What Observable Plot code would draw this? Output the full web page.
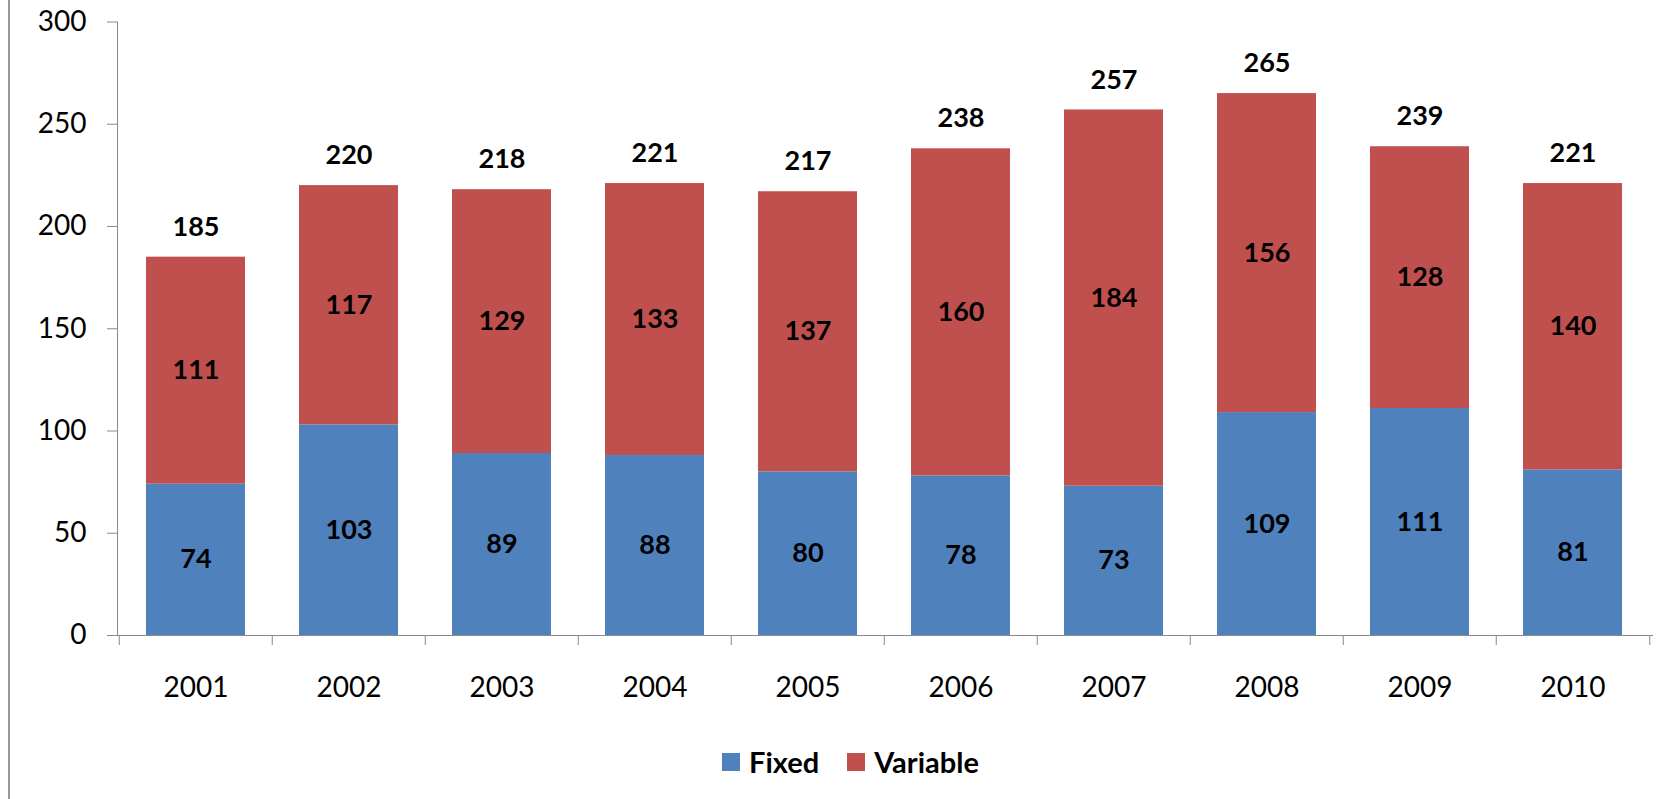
<!DOCTYPE html>
<html>
<head>
<meta charset="utf-8">
<script src="https://cdn.jsdelivr.net/npm/d3@7"></script>
<script src="https://cdn.jsdelivr.net/npm/@observablehq/plot@0.6"></script>
<style>
  html, body { margin: 0; padding: 0; background: #fff; }
  body { width: 1671px; height: 799px; position: relative; overflow: hidden; font-family: Lato, "Open Sans", sans-serif; }
  #border { position: absolute; left: 8px; top: 0; width: 2px; height: 799px; background: #9a9a9a; z-index: 5; }
  #chart { position: absolute; left: 0; top: 0; }
  #legend { position: absolute; left: 722px; top: 744px; display: flex; align-items: center; font-size: 29px; font-weight: bold; color: #000; }
  .sw { width: 18px; height: 18px; display: inline-block; margin-right: 9px; }
  .item { display: flex; align-items: center; margin-right: 28px; }
</style>
</head>
<body>
<div id="chart"></div>
<div id="border"></div>
<div id="legend"></div>
<script>
const years = ["2001","2002","2003","2004","2005","2006","2007","2008","2009","2010"];
const fixed = [74,103,89,88,80,78,73,109,111,81];
const variable = [111,117,129,133,137,160,184,156,128,140];
const totals = [185,220,218,221,217,238,257,265,239,221];
const seriesNames = ["Fixed","Variable"];
const seriesColors = ["#4F81BD","#C0504D"];
const yTicks = [0,50,100,150,200,250,300];

const data = [];
years.forEach((y, i) => {
  data.push({year: y, series: "Fixed", value: fixed[i]});
  data.push({year: y, series: "Variable", value: variable[i]});
});
const totalData = years.map((y, i) => ({year: y, total: totals[i]}));

const W = 1671, mL = 117, mR = 19;
const half = (W - mL - mR) / years.length / 2;

const plot = Plot.plot({
  width: W,
  height: 712,
  marginLeft: mL,
  marginRight: mR,
  marginTop: 21.5,
  marginBottom: 77,
  style: {fontFamily: "Lato, 'Open Sans', sans-serif", fontSize: "28px", color: "#000", background: "#fff"},
  x: {domain: years, paddingInner: 0.35, paddingOuter: 0.175, label: null},
  y: {domain: [0, 300], label: null},
  color: {domain: seriesNames, range: seriesColors},
  marks: [
    Plot.barY(data, Plot.stackY({x: "year", y: "value", fill: "series", order: seriesNames})),
    Plot.text(data, Plot.stackY({x: "year", y: "value", z: "series", order: seriesNames, text: d => String(d.value), fontSize: 27, fontWeight: "bold", fill: "#000"})),
    Plot.text(totalData, {x: "year", y: "total", text: d => String(d.total), dy: -30, fontSize: 27, fontWeight: "bold", fill: "#000"}),
    Plot.axisY({ticks: yTicks, tickSize: 10, tickPadding: 21, stroke: "#8a8a8a", fill: "#000", fontSize: 28, label: null}),
    Plot.frame({anchor: "left", stroke: "#8a8a8a"}),
    Plot.frame({anchor: "bottom", stroke: "#8a8a8a"}),
    Plot.axisX({tickSize: 10, text: null, dx: -half, stroke: "#8a8a8a", label: null}),
    Plot.axisX({ticks: [years[years.length - 1]], tickSize: 10, text: null, dx: half, stroke: "#8a8a8a", label: null}),
    Plot.axisX({tickSize: 0, tickPadding: 42, fill: "#000", fontSize: 28, label: null})
  ]
});
document.getElementById("chart").appendChild(plot);

const legend = document.getElementById("legend");
seriesNames.forEach((name, i) => {
  const item = document.createElement("div");
  item.className = "item";
  const sw = document.createElement("span");
  sw.className = "sw";
  sw.style.background = seriesColors[i];
  item.appendChild(sw);
  const t = document.createElement("span");
  t.textContent = name;
  item.appendChild(t);
  legend.appendChild(item);
});
</script>
</body>
</html>
